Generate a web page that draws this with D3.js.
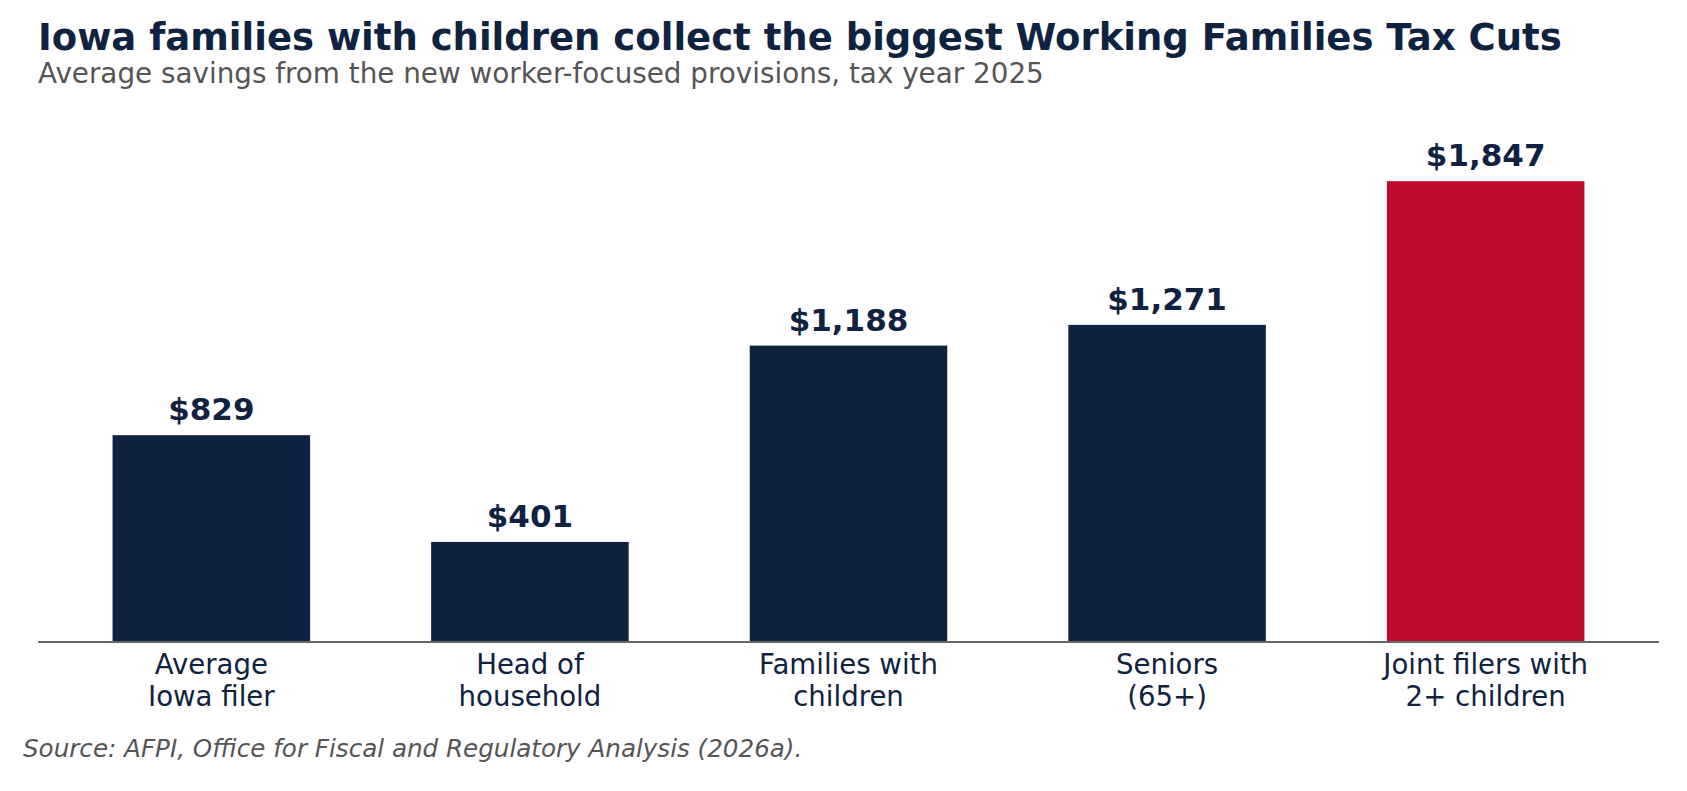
<!DOCTYPE html>
<html>
<head>
<meta charset="utf-8">
<script src="https://cdn.jsdelivr.net/npm/d3@7"></script>
<style>
  body { margin: 0; background: #fff; }
  svg { display: block; }
  svg text { font-family: "DejaVu Sans", sans-serif; }
</style>
</head>
<body>
<svg width="1687" height="791"></svg>
<script>
// data
const categories = ['Average\nIowa filer', 'Head of\nhousehold', 'Families with\nchildren', 'Seniors\n(65+)', 'Joint filers with\n2+ children'];
const savings = [829, 401, 1188, 1271, 1847];
const highlight = [false, false, false, false, true];

const navy = '#0f2340';
const red = '#be0a2f';

const svg = d3.select('svg');

const x = d3.scaleBand()
    .domain(categories)
    .range([38, 1659])
    .paddingInner(0.38)
    .paddingOuter(0.234);

const y = d3.scaleLinear()
    .domain([0, 2000])
    .range([642, 143]);

// title + subtitle
svg.append('text')
    .attr('x', 38).attr('y', 50)
    .style('font-size', '37px').style('font-weight', 'bold')
    .style('fill', navy)
    .text('Iowa families with children collect the biggest Working Families Tax Cuts');

svg.append('text')
    .attr('x', 38).attr('y', 83)
    .style('font-size', '27.8px')
    .style('fill', '#555')
    .text('Average savings from the new worker-focused provisions, tax year 2025');

// bars
svg.selectAll('rect.bar').data(categories)
    .join('rect')
    .attr('class', 'bar')
    .attr('x', d => x(d))
    .attr('y', (d, i) => y(savings[i]))
    .attr('width', x.bandwidth())
    .attr('height', (d, i) => y(0) - y(savings[i]))
    .style('fill', (d, i) => highlight[i] ? red : navy);

// value labels
svg.selectAll('text.val').data(categories)
    .join('text')
    .attr('class', 'val')
    .attr('x', d => x(d) + x.bandwidth() / 2)
    .attr('y', (d, i) => y(savings[i]) - 15)
    .attr('text-anchor', 'middle')
    .style('font-size', '31px').style('font-weight', 'bold')
    .style('fill', navy)
    .text((d, i) => '$' + d3.format(',')(savings[i]));

// x axis
const xAxis = svg.append('g')
    .attr('transform', `translate(0,${y(0)})`)
    .call(d3.axisBottom(x).tickSize(0).tickFormat(''));

xAxis.select('.domain')
    .attr('d', `M38,0H1659`)
    .style('stroke', '#666').style('stroke-width', 2);

// multi-line tick labels
xAxis.selectAll('.tick').each(function(d) {
    const t = d3.select(this).append('text')
        .attr('text-anchor', 'middle')
        .attr('y', 32)
        .style('font-size', '27.6px')
        .style('fill', navy);
    d.split('\n').forEach((line, i) => {
        t.append('tspan').attr('x', 0).attr('dy', i === 0 ? 0 : 32).text(line);
    });
});

// source
svg.append('text')
    .attr('x', 23).attr('y', 757)
    .style('font-size', '24.6px').style('font-style', 'italic')
    .style('fill', '#555')
    .text('Source: AFPI, Office for Fiscal and Regulatory Analysis (2026a).');
</script>
</body>
</html>
